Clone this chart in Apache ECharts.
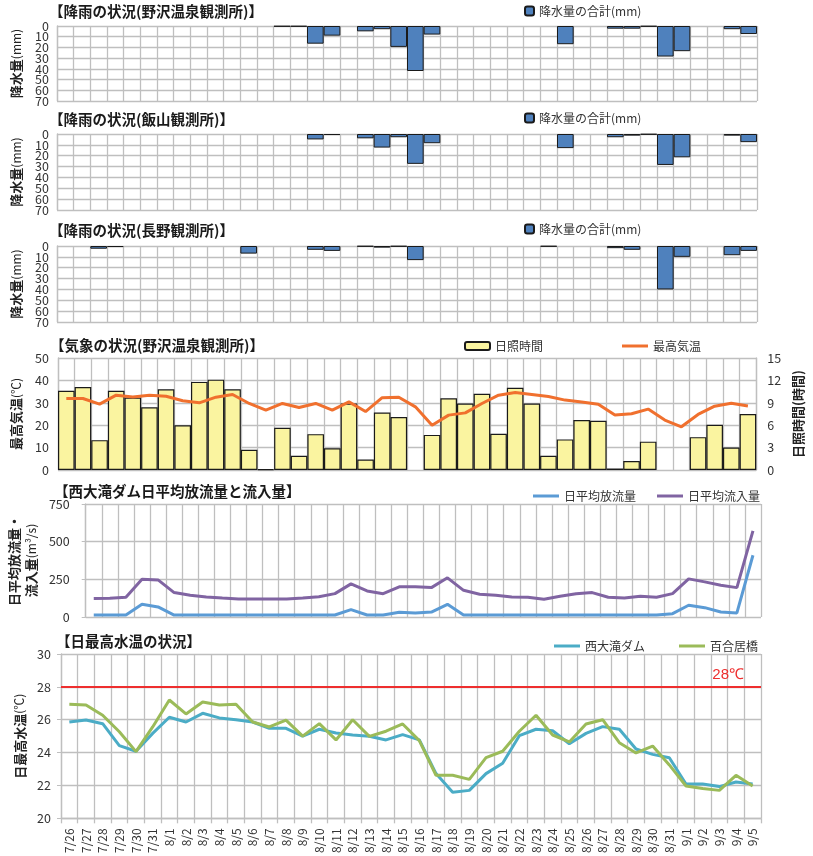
<!DOCTYPE html>
<html><head><meta charset="utf-8">
<script src="https://cdn.jsdelivr.net/npm/echarts@6/dist/echarts.min.js"></script>
<style>html,body{margin:0;padding:0;background:#fff}#c{width:813px;height:856px}</style>
</head><body><div id="c"></div>
<script>
const dates = ['7/26','7/27','7/28','7/29','7/30','7/31',
 '8/1','8/2','8/3','8/4','8/5','8/6','8/7','8/8','8/9','8/10','8/11','8/12','8/13','8/14','8/15','8/16',
 '8/17','8/18','8/19','8/20','8/21','8/22','8/23','8/24','8/25','8/26','8/27','8/28','8/29','8/30','8/31',
 '9/1','9/2','9/3','9/4','9/5'];
const rainNozawa = [null,null,null,null,null,null,null,null,null,null,null,null,null,0.5,0.5,16.5,9,null,5,3,19.5,42,8,null,null,null,null,null,null,null,17,null,null,2.5,2.5,0.5,28.5,23.5,null,null,3,7.5];
const rainIiyama = [null,null,null,null,null,null,null,null,null,null,null,null,null,null,null,5,1,null,4,12.5,3,27.5,8.5,null,null,null,null,null,null,null,13,null,null,3,1.5,0.5,28.5,21.5,null,null,1.5,7.5];
const rainNagano = [null,null,2.5,1,null,null,null,null,null,null,null,7,null,null,null,3.5,4.5,null,0.5,1.5,0.5,13,null,null,null,null,null,null,null,0.5,null,null,null,2,3.5,null,40,10,null,null,8.5,4.5];
const sunshine = [10.6,11.1,4.0,10.6,9.7,8.4,10.8,6.0,11.8,12.1,10.8,2.7,0.1,5.65,1.9,4.8,2.9,8.9,1.4,7.7,7.1,null,4.7,9.6,8.9,10.2,4.85,11.0,8.9,1.9,4.1,6.7,6.6,0.2,1.2,3.8,null,null,4.4,6.05,3.0,7.5];
const maxTemp = [31.9,31.9,29.4,33.4,32.6,33.4,32.9,30.9,30.0,32.5,33.7,29.7,26.7,29.7,27.9,29.7,26.7,30.4,26.1,32.3,32.5,28.2,20.0,24.5,25.5,29.7,33.4,34.6,33.7,32.8,31.2,30.4,29.4,24.5,25.1,27.2,22.3,19.3,24.8,28.5,29.8,28.6];
const outflow = [13,13,13,84,67,13,13,13,13,13,13,13,13,13,13,13,49,13,13,31,27,33,84,13,13,13,13,13,13,13,13,13,13,13,13,13,22,78,62,33,27,410];
const inflow = [122,124,131,251,246,162,144,133,126,120,120,120,120,126,135,155,220,173,155,200,200,195,260,177,151,144,133,131,118,138,155,162,131,126,138,131,155,253,233,211,195,572];
const damTemp = [25.86,25.98,25.76,24.42,24.08,25.17,26.15,25.86,26.39,26.11,26.0,25.86,25.48,25.48,25.0,25.42,25.19,25.07,24.99,24.77,25.09,24.77,22.72,21.58,21.7,22.72,23.35,25.03,25.42,25.33,24.54,25.17,25.58,25.42,24.22,23.89,23.69,22.09,22.09,21.93,22.21,22.09];
const yuriiTemp = [26.94,26.9,26.27,25.27,24.06,25.56,27.2,26.35,27.08,26.9,26.94,25.86,25.56,25.98,25.0,25.76,24.77,26.0,24.99,25.3,25.74,24.73,22.62,22.62,22.37,23.69,24.08,25.3,26.27,25.07,24.65,25.74,26.0,24.6,23.98,24.4,23.25,21.97,21.81,21.7,22.62,21.97];
const rainTicks = [0,70,10];
const tempTicks = [0,50,10];
const sunTicks = [0,15,3];
const flowTicks = [0,750,250];
const waterTicks = [20,30,2];

const FONT = 'Noto Sans CJK JP';
const GRID = '#BFBFBF';
const TXT = '#333';

const grids = [
  {left:57, right:56, top:26, height:75},
  {left:57, right:56, top:134, height:76},
  {left:57, right:56, top:246, height:76},
  {left:58, right:51, top:358, height:112},
  {left:61, right:52, top:504, height:113},
  {left:61, right:52, top:654, height:169}
];
const xAxes = grids.map((g,i)=>({
  type:'category', data:dates, gridIndex:i, boundaryGap:true,
  axisLine:{show:i===5, lineStyle:{color:GRID,width:1.3}},
  axisTick:{show:i===5, length:5, lineStyle:{color:GRID,width:1.3}},
  axisLabel:{show:i===5, rotate:90, interval:0, fontSize:12, color:TXT, fontFamily:FONT, margin:10},
  splitLine:{show:true, interval:0, lineStyle:{color:GRID,width:1.3}}
}));
const lab = (m, mn, mx)=>({fontSize:12.5, color:TXT, fontFamily:FONT, margin:m,
  showMinLabel:mn===undefined?true:mn, showMaxLabel:mx===undefined?true:mx, hideOverlap:false});
function yA(grid, t, extra){
  return Object.assign({
    type:'value', gridIndex:grid, min:t[0], max:t[1], interval:t[2],
    axisLine:{show:true, lineStyle:{color:GRID,width:1.3}},
    axisTick:{show:false},
    axisLabel:lab(8),
    splitLine:{show:true, lineStyle:{color:GRID,width:1.3}},
    nameLocation:'middle', nameRotate:90,
    nameTextStyle:{fontFamily:FONT, color:'#222', fontSize:13,
      rich:{b:{fontWeight:'bold',fontSize:13,fontFamily:FONT,color:'#222',lineHeight:17}, n:{fontSize:12,fontFamily:FONT,color:'#222',lineHeight:17}}}
  }, extra||{});
}
// extra label-only axis for the rain panels: shows the 0 and 70 end labels
function rainEnds(grid){
  return {type:'value', gridIndex:grid, inverse:true, min:rainTicks[0], max:rainTicks[1], interval:rainTicks[1]-rainTicks[0],
    position:'left', axisLine:{show:false}, axisTick:{show:false}, splitLine:{show:false},
    axisLabel:lab(8)};
}
const rainName = '{b|降水量}{n|(mm)}';
const yAxes = [
  yA(0, rainTicks, {inverse:true, name:rainName, nameGap:32, axisLabel:lab(8,false,false)}),
  yA(1, rainTicks, {inverse:true, name:rainName, nameGap:32, axisLabel:lab(8,false,false)}),
  yA(2, rainTicks, {inverse:true, name:rainName, nameGap:32, axisLabel:lab(8,false,false)}),
  yA(3, tempTicks, {name:'{b|最高気温}{n|(℃)}', nameGap:33, axisLabel:lab(9)}),
  yA(3, sunTicks, {position:'right', splitLine:{show:false}, name:'{b|日照時間(時間)}', nameGap:28, axisLabel:lab(11)}),
  yA(4, flowTicks, {name:'{b|日平均放流量・}\n{b|流入量}{n|(m³/s)}', nameGap:35, axisTick:{show:true,length:4,lineStyle:{color:GRID}}, axisLabel:lab(16)}),
  yA(5, waterTicks, {name:'{b|日最高水温}{n|(℃)}', nameGap:32, axisTick:{show:true,length:4,lineStyle:{color:GRID}}, axisLabel:lab(10)}),
  rainEnds(0), rainEnds(1), rainEnds(2)
];
const rainBar = (xi, data)=>({
  type:'bar', name:'降水量の合計(mm)', xAxisIndex:xi, yAxisIndex:xi, data:data,
  barWidth:'100%', itemStyle:{color:'#4F81BD', borderColor:'#1a1a1a', borderWidth:1}
});
const titleStyle = {fontFamily:FONT, fontSize:14.5, fontWeight:'bold', color:'#1a1a1a'};
const titles = [
  ['【降雨の状況(野沢温泉観測所)】',49,4],
  ['【降雨の状況(飯山観測所)】',49,112],
  ['【降雨の状況(長野観測所)】',49,223],
  ['【気象の状況(野沢温泉観測所)】',50,338],
  ['【西大滝ダム日平均放流量と流入量】',54,484],
  ['【日最高水温の状況】',56,634]
].map(t=>({text:t[0], left:t[1], top:t[2], padding:0, textStyle:titleStyle}));
const lg = (name,left,top,w,h,icon)=>({data:[icon?{name:name,icon:icon}:name], left:left, top:top, padding:0, itemWidth:w, itemHeight:h, itemGap:0,
  textStyle:{fontFamily:FONT, fontSize:12, color:'#333'}, selectedMode:false});
const legends = [
  lg('降水量の合計(mm)',524,5,9,9),
  lg('降水量の合計(mm)',524,112,9,9),
  lg('降水量の合計(mm)',524,223,9,9),
  lg('日照時間',464,340,25,8),
  lg('最高気温',622,340,26,3,'rect'),
  lg('日平均放流量',533,490,26,3,'rect'),
  lg('日平均流入量',657,490,26,3,'rect'),
  lg('西大滝ダム',554,640,26,3,'rect'),
  lg('百合居橋',679,640,26,3,'rect')
];
const lineS = (name, xi, yi, data, color)=>({type:'line', name:name, xAxisIndex:xi, yAxisIndex:yi, data:data,
  symbol:'none', lineStyle:{color:color, width:3}, itemStyle:{color:color}});
const option = {
  animation:false,
  textStyle:{fontFamily:FONT},
  title:titles, legend:legends, grid:grids, xAxis:xAxes, yAxis:yAxes,
  series:[
    rainBar(0, rainNozawa), rainBar(1, rainIiyama), rainBar(2, rainNagano),
    {type:'bar', name:'日照時間', xAxisIndex:3, yAxisIndex:4, data:sunshine, barWidth:'100%',
      itemStyle:{color:'#FAF4A0', borderColor:'#1a1a1a', borderWidth:1.2}},
    lineS('最高気温',3,3,maxTemp,'#F0702E'),
    lineS('日平均放流量',4,5,outflow,'#5B9BD5'),
    lineS('日平均流入量',4,5,inflow,'#8064A2'),
    Object.assign(lineS('西大滝ダム',5,6,damTemp,'#4BACC6'), {markLine:{silent:true, symbol:'none',
      lineStyle:{color:'#EE2E2E', width:2, type:'solid'},
      label:{show:true, position:'insideEndTop', formatter:'28℃', color:'#EE2E2E', fontSize:15, fontFamily:'Liberation Sans', padding:[0,12,0,0]},
      data:[{yAxis:28}]}}),
    lineS('百合居橋',5,6,yuriiTemp,'#9BBB59')
  ]
};
echarts.init(document.getElementById('c'), null, {renderer:'canvas'}).setOption(option);
</script></body></html>
